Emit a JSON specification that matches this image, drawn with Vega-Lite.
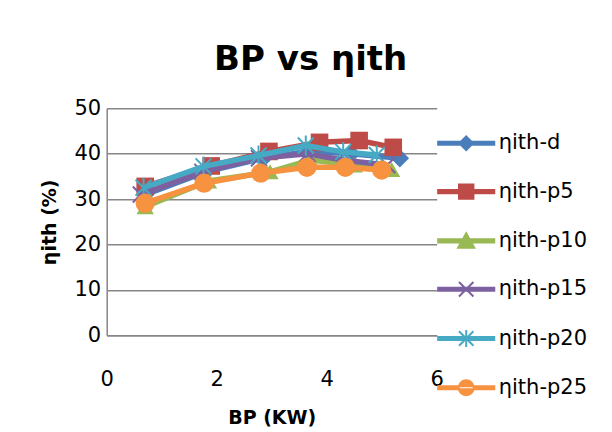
{
  "$schema": "https://vega.github.io/schema/vega-lite/v6.json",
  "width": 330,
  "height": 227,
  "autosize": {"type": "none"},
  "padding": {"left": 106.7, "top": 108.3, "right": 175.3, "bottom": 96.7},
  "background": "white",
  "config": {"font": "DejaVu Sans", "view": {"stroke": null}},
  "title": {"text": "BP vs ηith", "font": "DejaVu Sans", "fontSize": 34, "fontWeight": "bold", "color": "black", "anchor": "middle", "frame": "group", "dx": 39, "offset": -7, "baseline": "alphabetic"},
  "data": {
    "values": [
      {"s": "ηith-d", "bp": 0.7, "eff": 31},
      {"s": "ηith-d", "bp": 1.8, "eff": 36},
      {"s": "ηith-d", "bp": 2.85, "eff": 39},
      {"s": "ηith-d", "bp": 3.65, "eff": 40.5},
      {"s": "ηith-d", "bp": 4.45, "eff": 40},
      {"s": "ηith-d", "bp": 5.33, "eff": 39},
      {"s": "ηith-p5", "bp": 0.7, "eff": 32.8},
      {"s": "ηith-p5", "bp": 1.9, "eff": 37.3},
      {"s": "ηith-p5", "bp": 2.95, "eff": 40.5},
      {"s": "ηith-p5", "bp": 3.87, "eff": 42.5},
      {"s": "ηith-p5", "bp": 4.59, "eff": 42.9},
      {"s": "ηith-p5", "bp": 5.21, "eff": 41.4},
      {"s": "ηith-p10", "bp": 0.7, "eff": 28.3},
      {"s": "ηith-p10", "bp": 1.85, "eff": 34},
      {"s": "ηith-p10", "bp": 2.97, "eff": 36},
      {"s": "ηith-p10", "bp": 3.7, "eff": 38.6},
      {"s": "ηith-p10", "bp": 4.5, "eff": 37.5},
      {"s": "ηith-p10", "bp": 5.18, "eff": 36.5},
      {"s": "ηith-p15", "bp": 0.62, "eff": 31},
      {"s": "ηith-p15", "bp": 1.74, "eff": 36},
      {"s": "ηith-p15", "bp": 2.77, "eff": 39},
      {"s": "ηith-p15", "bp": 3.65, "eff": 40},
      {"s": "ηith-p15", "bp": 4.35, "eff": 38.5},
      {"s": "ηith-p15", "bp": 5.1, "eff": 37.5},
      {"s": "ηith-p20", "bp": 0.67, "eff": 32.5},
      {"s": "ηith-p20", "bp": 1.76, "eff": 37.2},
      {"s": "ηith-p20", "bp": 2.76, "eff": 39.6},
      {"s": "ηith-p20", "bp": 3.62, "eff": 41.8},
      {"s": "ηith-p20", "bp": 4.3, "eff": 40.4},
      {"s": "ηith-p20", "bp": 4.91, "eff": 39.7},
      {"s": "ηith-p25", "bp": 0.7, "eff": 29.1},
      {"s": "ηith-p25", "bp": 1.77, "eff": 33.5},
      {"s": "ηith-p25", "bp": 2.8, "eff": 35.7},
      {"s": "ηith-p25", "bp": 3.64, "eff": 37},
      {"s": "ηith-p25", "bp": 4.34, "eff": 37},
      {"s": "ηith-p25", "bp": 5.0, "eff": 36.4}
    ]
  },
  "encoding": {
    "x": {
      "field": "bp", "type": "quantitative",
      "scale": {"domain": [0, 6], "nice": false},
      "axis": {"values": [0, 2, 4, 6], "title": "BP (KW)", "grid": false, "ticks": false, "tickSize": 0, "domain": true, "domainColor": "#868686", "domainWidth": 1.5, "labelFontSize": 21, "labelColor": "black", "labelPadding": 33, "labelFlush": false, "titleFontSize": 19, "titleFontWeight": "bold", "titleColor": "black", "titlePadding": 19}
    },
    "y": {
      "field": "eff", "type": "quantitative",
      "scale": {"domain": [0, 50], "nice": false},
      "axis": {"values": [0, 10, 20, 30, 40, 50], "title": "ηith (%)", "grid": true, "gridColor": "#868686", "gridWidth": 1.5, "ticks": false, "tickSize": 0, "domainColor": "#868686", "domainWidth": 1.5, "labelFontSize": 21, "labelColor": "black", "labelPadding": 6, "labelFlush": false, "titleFontSize": 19, "titleFontWeight": "bold", "titleColor": "black", "titlePadding": 14}
    },
    "color": {
      "field": "s", "type": "nominal",
      "scale": {
        "domain": ["ηith-d", "ηith-p5", "ηith-p10", "ηith-p15", "ηith-p20", "ηith-p25"],
        "range": ["#4a7ebb", "#be4b48", "#98b954", "#7d60a0", "#46aac5", "#f69240"]
      },
      "legend": {
        "title": null, "orient": "none", "legendX": 349, "legendY": 24.5, "padding": 0,
        "symbolSize": 289, "symbolStrokeWidth": 2, "labelFontSize": 21, "labelColor": "black", "labelFont": "DejaVu Sans", "labelOffset": 22, "rowPadding": 25.3,
        "encode": {
          "symbols": {
            "update": {
              "shape": {"signal": "datum.value === 'ηith-d' ? 'M-3.3,-0.18H3.3V0.18H-3.3ZM0,-0.8L0.8,0L0,0.8L-0.8,0Z' : datum.value === 'ηith-p5' ? 'M-3.3,-0.18H3.3V0.18H-3.3ZM-0.85,-0.85H0.85V0.85H-0.85Z' : datum.value === 'ηith-p10' ? 'M-3.3,-0.18H3.3V0.18H-3.3ZM0,-0.9L0.95,0.8H-0.95Z' : datum.value === 'ηith-p15' ? 'M-3.3,-0.18H3.3V0.18H-3.3ZM-0.85,-0.85L0.85,0.85M-0.85,0.85L0.85,-0.85' : datum.value === 'ηith-p20' ? 'M-3.3,-0.18H3.3V0.18H-3.3ZM-0.85,-0.85L0.85,0.85M-0.85,0.85L0.85,-0.85M0,-1L0,1' : 'M-3.3,-0.18H3.3V0.18H-3.3ZM-0.88,0A0.88,0.88 0 1,0 0.88,0A0.88,0.88 0 1,0 -0.88,0Z'"},
              "fill": {"scale": "color", "field": "value"},
              "stroke": {"scale": "color", "field": "value"},
              "strokeWidth": {"value": 2},
              "opacity": {"value": 1},
              "size": {"value": 289}
            }
          }
        }
      }
    }
  },
  "layer": [
    {"transform": [{"filter": "datum.s === 'ηith-d'"}], "mark": {"type": "line", "strokeWidth": 5.5, "point": {"shape": "diamond", "size": 340, "filled": true}}},
    {"transform": [{"filter": "datum.s === 'ηith-p5'"}], "mark": {"type": "line", "strokeWidth": 5.5, "point": {"shape": "square", "size": 310, "filled": true}}},
    {"transform": [{"filter": "datum.s === 'ηith-p10'"}], "mark": {"type": "line", "strokeWidth": 5.5, "point": {"shape": "triangle-up", "size": 300, "filled": true}}},
    {"transform": [{"filter": "datum.s === 'ηith-p15'"}], "mark": {"type": "line", "strokeWidth": 5.5, "point": {"shape": "M-1,-1L1,1M-1,1L1,-1", "size": 256, "filled": false, "strokeWidth": 2}}},
    {"transform": [{"filter": "datum.s === 'ηith-p20'"}], "mark": {"type": "line", "strokeWidth": 5.5, "point": {"shape": "M-1,-1L1,1M-1,1L1,-1M0,-1.25L0,1.25", "size": 256, "filled": false, "strokeWidth": 2}}},
    {"transform": [{"filter": "datum.s === 'ηith-p25'"}], "mark": {"type": "line", "strokeWidth": 5.5, "point": {"shape": "circle", "size": 370, "filled": true}}}
  ]
}
